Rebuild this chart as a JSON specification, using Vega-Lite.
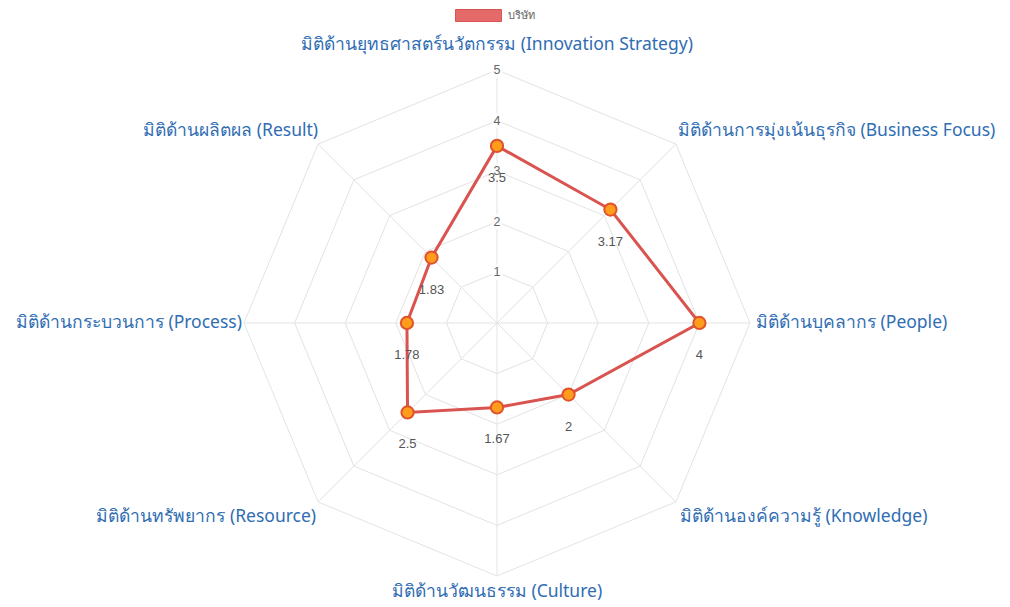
{
  "$schema": "https://vega.github.io/schema/vega-lite/v6.json",
  "width": 1010,
  "height": 607,
  "autosize": {"type": "none"},
  "padding": 0,
  "background": "white",
  "config": {"view": {"stroke": null}},
  "datasets": {
    "scores": [
      {"i": 0, "company": "บริษัท", "axis": "มิติด้านยุทธศาสตร์นวัตกรรม (Innovation Strategy)", "score": 3.5},
      {"i": 1, "company": "บริษัท", "axis": "มิติด้านการมุ่งเน้นธุรกิจ (Business Focus)", "score": 3.17},
      {"i": 2, "company": "บริษัท", "axis": "มิติด้านบุคลากร (People)", "score": 4},
      {"i": 3, "company": "บริษัท", "axis": "มิติด้านองค์ความรู้ (Knowledge)", "score": 2},
      {"i": 4, "company": "บริษัท", "axis": "มิติด้านวัฒนธรรม (Culture)", "score": 1.67},
      {"i": 5, "company": "บริษัท", "axis": "มิติด้านทรัพยากร (Resource)", "score": 2.5},
      {"i": 6, "company": "บริษัท", "axis": "มิติด้านกระบวนการ (Process)", "score": 1.78},
      {"i": 7, "company": "บริษัท", "axis": "มิติด้านผลิตผล (Result)", "score": 1.83}
    ],
    "rings": [
      {"level": 1, "k": [0, 1, 2, 3, 4, 5, 6, 7]},
      {"level": 2, "k": [0, 1, 2, 3, 4, 5, 6, 7]},
      {"level": 3, "k": [0, 1, 2, 3, 4, 5, 6, 7]},
      {"level": 4, "k": [0, 1, 2, 3, 4, 5, 6, 7]},
      {"level": 5, "k": [0, 1, 2, 3, 4, 5, 6, 7]}
    ]
  },
  "layer": [
    {
      "data": {"name": "rings"},
      "transform": [
        {"flatten": ["k"]},
        {"calculate": "datum.k * PI / 4", "as": "a"},
        {"calculate": "datum.level * sin(datum.a)", "as": "gx"},
        {"calculate": "datum.level * cos(datum.a)", "as": "gy"}
      ],
      "mark": {"type": "line", "interpolate": "linear-closed", "stroke": "#e3e3e3", "strokeWidth": 1},
      "encoding": {
        "x": {"field": "gx", "type": "quantitative", "scale": {"domain": [-9.822, 10.138], "nice": false, "zero": false}, "axis": null},
        "y": {"field": "gy", "type": "quantitative", "scale": {"domain": [-5.613, 6.383], "nice": false, "zero": false}, "axis": null},
        "detail": {"field": "level", "type": "nominal"},
        "order": {"field": "k", "type": "quantitative"}
      }
    },
    {
      "data": {"name": "scores"},
      "transform": [
        {"calculate": "datum.i * PI / 4", "as": "a"},
        {"calculate": "5 * sin(datum.a)", "as": "ex"},
        {"calculate": "5 * cos(datum.a)", "as": "ey"},
        {"calculate": "0", "as": "c0"}
      ],
      "mark": {"type": "rule", "stroke": "#e3e3e3", "strokeWidth": 1},
      "encoding": {
        "x": {"field": "c0", "type": "quantitative"},
        "y": {"field": "c0", "type": "quantitative"},
        "x2": {"field": "ex"},
        "y2": {"field": "ey"}
      }
    },
    {
      "data": {"values": [{"tick": 1}, {"tick": 2}, {"tick": 3}, {"tick": 4}, {"tick": 5}]},
      "transform": [{"calculate": "0", "as": "c0"}],
      "layer": [
        {
          "mark": {"type": "point", "shape": "M-0.7,-1H0.7V1H-0.7Z", "filled": true, "fill": "white", "opacity": 0.8, "size": 256},
          "encoding": {
            "x": {"field": "c0", "type": "quantitative"},
            "y": {"field": "tick", "type": "quantitative"}
          }
        },
        {
          "mark": {"type": "text", "font": "Liberation Sans", "fontSize": 12.5, "color": "#666666", "baseline": "middle", "align": "center"},
          "encoding": {
            "x": {"field": "c0", "type": "quantitative"},
            "y": {"field": "tick", "type": "quantitative"},
            "text": {"field": "tick", "type": "quantitative"}
          }
        }
      ]
    },
    {
      "data": {"name": "scores"},
      "transform": [
        {"calculate": "datum.i * PI / 4", "as": "a"},
        {"calculate": "datum.score * sin(datum.a)", "as": "px"},
        {"calculate": "datum.score * cos(datum.a)", "as": "py"},
        {"calculate": "5 * sin(datum.a)", "as": "lx"},
        {"calculate": "5 * cos(datum.a)", "as": "ly"}
      ],
      "layer": [
        {
          "mark": {"type": "line", "interpolate": "linear-closed", "strokeWidth": 3},
          "encoding": {
            "x": {"field": "px", "type": "quantitative"},
            "y": {"field": "py", "type": "quantitative"},
            "order": {"field": "i", "type": "quantitative"},
            "color": {
              "field": "company",
              "type": "nominal",
              "scale": {"domain": ["บริษัท"], "range": ["#d9534f"]},
              "legend": {
                "orient": "none",
                "legendX": 455,
                "legendY": -8,
                "title": null,
                "symbolType": "M-1,-0.26H1V0.26H-1Z",
                "symbolSize": 2116,
                "symbolFillColor": "#e46a6a",
                "symbolStrokeColor": "#d24b4b",
                "symbolStrokeWidth": 1,
                "labelFont": "Noto Sans",
                "labelFontSize": 11,
                "labelColor": "#666666",
                "labelOffset": 6,
                "padding": 0
              }
            }
          }
        },
        {
          "mark": {"type": "point", "filled": true, "fill": "#ff9c1c", "stroke": "#e0522b", "strokeWidth": 2, "size": 150, "opacity": 1},
          "encoding": {
            "x": {"field": "px", "type": "quantitative"},
            "y": {"field": "py", "type": "quantitative"}
          }
        },
        {
          "mark": {"type": "text", "font": "Liberation Sans", "fontSize": 13, "color": "#555555", "dy": 32, "align": "center", "baseline": "middle"},
          "encoding": {
            "x": {"field": "px", "type": "quantitative"},
            "y": {"field": "py", "type": "quantitative"},
            "text": {"field": "score", "type": "quantitative"}
          }
        },
        {
          "mark": {
            "type": "text",
            "font": "Noto Sans",
            "fontSize": 17.5,
            "color": "#2f6db3",
            "baseline": "middle",
            "align": {"expr": "datum.i == 0 || datum.i == 4 ? 'center' : (datum.i < 4 ? 'left' : 'right')"},
            "dx": {"expr": "datum.i == 1 ? 2 : datum.i == 2 ? 6 : datum.i == 3 ? 4 : (datum.i == 5 || datum.i == 6) ? -2 : 0"},
            "dy": {"expr": "datum.i == 0 ? -25 : datum.i == 4 ? 16 : (datum.i == 1 || datum.i == 7) ? -13 : (datum.i == 3 || datum.i == 5) ? 15 : 0"}
          },
          "encoding": {
            "x": {"field": "lx", "type": "quantitative"},
            "y": {"field": "ly", "type": "quantitative"},
            "text": {"field": "axis", "type": "nominal"}
          }
        }
      ]
    }
  ]
}
